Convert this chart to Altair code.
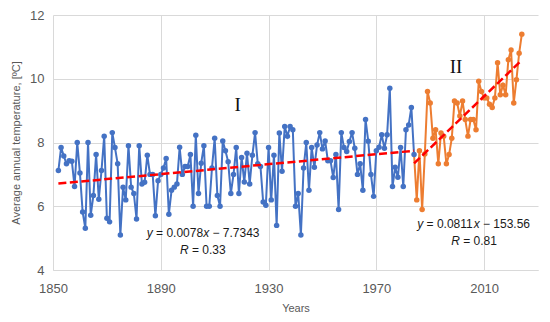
import altair as alt
import pandas as pd

# ---- data ----
blue_start = 1852
blue_vals = [
    7.12, 7.84, 7.58, 7.33, 7.43, 7.41, 6.62, 8.0, 7.04, 5.82,   # 1852-1861
    5.31, 8.0, 5.72, 6.34, 7.62, 6.22, 7.12, 8.2, 5.62, 5.51,     # 1862-1871
    8.31, 7.84, 7.33, 5.1, 6.6, 6.2, 7.9, 6.6, 6.4, 5.6,          # 1872-1881
    7.9, 6.7, 6.75, 7.6, 7.0, 7.0, 5.7, 6.8, 7.0, 7.2,            # 1882-1891
    7.5, 5.75, 6.5, 6.6, 6.7, 7.85, 7.0, 7.25, 7.25, 7.62,        # 1892-1901
    6.0, 8.23, 6.4, 7.35, 7.9, 6.0, 6.0, 7.2, 8.13, 6.34,         # 1902-1911
    6.0, 8.05, 7.74, 7.4, 6.4, 7.0, 7.84, 6.4, 7.53, 6.76,        # 1912-1921
    7.66, 6.7, 7.6, 8.31, 7.33, 7.25, 6.13, 6.03, 7.84, 6.2,      # 1922-1931
    7.6, 5.4, 8.3, 7.1, 8.5, 8.2, 8.5, 8.4, 6.0, 6.4,             # 1932-1941
    5.1, 7.2, 8.0, 6.5, 7.84, 7.22, 7.92, 8.31, 7.8, 8.05,        # 1942-1951
    7.43, 7.43, 6.9, 7.62, 5.9, 8.31, 7.84, 7.72, 8.03, 8.31,     # 1952-1961
    7.82, 7.0, 7.33, 6.5, 8.72, 8.04, 7.0, 6.31, 7.74, 7.85,      # 1962-1971
    8.24, 7.82, 8.24, 9.7, 6.62, 7.22, 6.91, 7.84, 6.62, 8.4,     # 1972-1981
    8.55, 9.1, 7.62,                                              # 1982-1984
]
orange_start = 1985
orange_vals = [
    6.2, 7.74, 5.9, 7.64, 9.6, 9.24, 8.13, 8.4, 7.33, 8.3,        # 1985-1994
    8.2, 7.33, 7.62, 8.13, 9.3, 9.24, 8.83, 9.3, 8.72, 8.2,       # 1995-2004
    8.72, 8.72, 8.4, 9.92, 9.6, 9.4, 9.4, 9.2, 9.1, 9.4,          # 2005-2014
    10.5, 9.5, 9.8, 9.5, 10.6, 10.9, 9.24, 9.97, 10.8, 11.4,      # 2015-2024
]
# trend lines as printed on the chart
trend1 = (0.0078, -7.7343)
trend2 = (0.0811, -153.56)
x_ticks = [1850, 1890, 1930, 1970, 2010]
y_ticks = [4, 6, 8, 10, 12]

BLUE = "#4472C4"
ORANGE = "#ED7D31"
RED = "#FF0000"
FONT = "Liberation Sans"

blue_years = list(range(blue_start, blue_start + len(blue_vals)))
orange_years = list(range(orange_start, orange_start + len(orange_vals)))
df_blue = pd.DataFrame({"year": blue_years, "t": blue_vals})
df_orange = pd.DataFrame({"year": orange_years, "t": orange_vals})
df_orange_line = pd.DataFrame({"year": [blue_years[-1]] + orange_years,
                               "t": [blue_vals[-1]] + orange_vals})

t1x = [blue_years[0], blue_years[-1]]
df_t1 = pd.DataFrame({"year": t1x, "t": [trend1[0] * v + trend1[1] for v in t1x]})
t2x = [blue_years[-1], orange_years[-1]]
df_t2 = pd.DataFrame({"year": t2x, "t": [trend2[0] * v + trend2[1] for v in t2x]})

xs = alt.Scale(domain=[1850, 2030], nice=False, zero=False)
ys = alt.Scale(domain=[4, 12], nice=False, zero=False)

X = alt.X("year:Q", scale=xs,
          axis=alt.Axis(values=x_ticks, format="d", title="Years", grid=True,
                        labelFlush=False, labelPadding=12, titlePadding=7,
                        labelFontSize=13, titleFontSize=11, titleFontWeight="normal"))
Y = alt.Y("t:Q", scale=ys,
          axis=alt.Axis(values=y_ticks, title="Average annual temperature, [ºC]",
                        grid=True, labelPadding=9, titlePadding=8, labelFontSize=13,
                        titleFontSize=11, titleFontWeight="normal", domain=False))

base_b = alt.Chart(df_blue)
line_b = base_b.mark_line(color=BLUE, strokeWidth=2).encode(x=X, y=Y)
pts_b = base_b.mark_circle(color=BLUE, size=30, opacity=1).encode(x="year:Q", y="t:Q")
line_o = alt.Chart(df_orange_line).mark_line(color=ORANGE, strokeWidth=2).encode(x="year:Q", y="t:Q")
pts_o = alt.Chart(df_orange).mark_circle(color=ORANGE, size=30, opacity=1).encode(x="year:Q", y="t:Q")
tr1 = alt.Chart(df_t1).mark_line(color=RED, strokeWidth=2.5, strokeDash=[8, 3.5]).encode(x="year:Q", y="t:Q")
tr2 = alt.Chart(df_t2).mark_line(color=RED, strokeWidth=2.5, strokeDash=[8, 3.5]).encode(x="year:Q", y="t:Q")

# annotation texts: (year, temp, text, dx, italic)
ann = [
    (1884.8, 5.15, "y", 0, True),
    (1884.8, 5.15, "= 0.0078", 9.3, False),
    (1884.8, 5.15, "x", 56.4, True),
    (1884.8, 5.15, "− 7.7343", 65.7, False),
    (1905.6, 4.62, "R", -22.9, True),
    (1905.6, 4.62, "= 0.33", -10.9, False),
    (1985.2, 5.43, "y", 0, True),
    (1985.2, 5.43, "= 0.0811", 9.3, False),
    (1985.2, 5.43, "x", 56.4, True),
    (1985.2, 5.43, "− 153.56", 65.7, False),
    (2006.3, 4.90, "R", -22.9, True),
    (2006.3, 4.90, "= 0.81", -10.9, False),
]
texts = []
for yr, tv, s, dx, it in ann:
    texts.append(
        alt.Chart(pd.DataFrame({"year": [yr], "t": [tv], "s": [s]}))
        .mark_text(align="left", baseline="middle", dx=dx, font=FONT, fontSize=12,
                   fontStyle="italic" if it else "normal", color="#1a1a1a")
        .encode(x="year:Q", y="t:Q", text="s:N")
    )

roman = pd.DataFrame({"year": [1918.5, 1999.6], "t": [9.18, 10.36], "s": ["I", "II"]})
rom = alt.Chart(roman).mark_text(font="Liberation Serif", fontSize=19, color="#111",
                                 baseline="middle", align="center").encode(
    x="year:Q", y="t:Q", text="s:N")

chart = alt.layer(line_o, line_b, pts_o, pts_b, tr1, tr2, rom, *texts).properties(
    width=485, height=255,
    autosize=alt.AutoSizeParams(type="none"),
    padding={"left": 45, "top": 7, "right": 4, "bottom": 44},
).configure_view(stroke=None).configure_axis(
    gridColor="#D9D9D9", gridWidth=1, domainColor="#D9D9D9", ticks=False,
    labelColor="#595959", titleColor="#595959", labelFont=FONT, titleFont=FONT,
)

chart.save("out.html", embed_options={"renderer": "svg", "actions": False})
